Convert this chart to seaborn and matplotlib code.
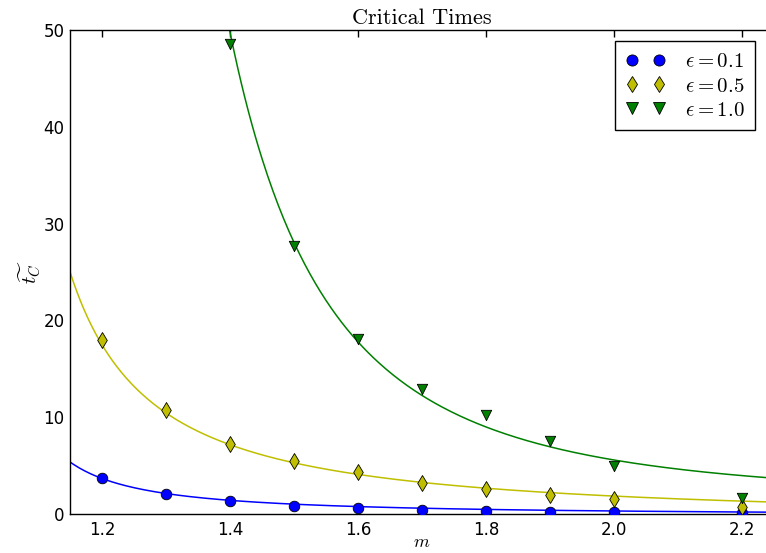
import numpy as np
import pandas as pd
import matplotlib
matplotlib.use("Agg")
import matplotlib.pyplot as plt
from matplotlib.lines import Line2D
import seaborn as sns

# Measured critical times for each epsilon
m_values = [1.2, 1.3, 1.4, 1.5, 1.6, 1.7, 1.8, 1.9, 2.0, 2.2]
t_eps_01 = [3.75, 2.08, 1.32, 0.87, 0.59, 0.45, 0.31, 0.24, 0.17, 0.10]
t_eps_05 = [18.0, 10.75, 7.2, 5.5, 4.35, 3.2, 2.6, 1.92, 1.58, 0.76]
m_values_eps_10 = [1.4, 1.5, 1.6, 1.7, 1.8, 1.9, 2.0, 2.2]
t_eps_10 = [48.6, 27.7, 18.1, 12.9, 10.2, 7.5, 4.97, 1.67]

# Fitted curves t = a / (m - 1)^b + c for each epsilon
fit_a = [0.50, 2.65, 4.19]
fit_b = [1.27, 1.20, 2.67]
fit_c = [-0.19, -0.80, 1.39]

labels = [r"$\epsilon=0.1$", r"$\epsilon=0.5$", r"$\epsilon=1.0$"]
colors = ["#0000ff", "#bfbf00", "#008000"]
markers = ["o", "d", "v"]
sizes = [58, 66, 56]

sns.set_theme(style="white")
plt.rcParams["font.family"] = ["DejaVu Sans"]
plt.rcParams["mathtext.fontset"] = "cm"
plt.rcParams["xtick.direction"] = "in"
plt.rcParams["ytick.direction"] = "in"
plt.rcParams["text.color"] = "black"
plt.rcParams["axes.labelcolor"] = "black"
plt.rcParams["xtick.color"] = "black"
plt.rcParams["ytick.color"] = "black"

fig = plt.figure(figsize=(7.66, 5.53), dpi=100)
W, H = 766, 553
ax = fig.add_axes([70 / W, 39 / H, 704 / W, 484 / H])

grid = np.linspace(1.15, 2.25, 400)
series = [
    (m_values, t_eps_01),
    (m_values, t_eps_05),
    (m_values_eps_10, t_eps_10),
]

for i, (mx, ty) in enumerate(series):
    curve = fit_a[i] / (grid - 1.0) ** fit_b[i] + fit_c[i]
    sns.lineplot(x=grid, y=curve, color=colors[i], linewidth=1.1, ax=ax,
                 zorder=2, legend=False)

for i, (mx, ty) in enumerate(series):
    df = pd.DataFrame({"m": mx, "t": ty})
    sns.scatterplot(data=df, x="m", y="t", marker=markers[i], s=sizes[i],
                    color=colors[i], edgecolor="black", linewidth=0.6,
                    ax=ax, zorder=3, legend=False)

ax.set_xlim(1.15, 2.25)
ax.set_ylim(0, 50)
ax.set_xticks([1.2, 1.4, 1.6, 1.8, 2.0, 2.2])
ax.set_yticks([0, 10, 20, 30, 40, 50])
ax.tick_params(axis="both", which="major", labelsize=12, length=5, width=1,
               color="black", labelcolor="black", top=True, right=True)
ax.tick_params(axis="x", pad=5)
ax.tick_params(axis="y", pad=4)
for sp in ax.spines.values():
    sp.set_color("black")
    sp.set_linewidth(1.0)

ax.set_title("Critical Times", fontfamily="cmr10", fontsize=16, pad=4)
ax.set_xlabel(r"$m$", fontsize=13, labelpad=-4)
ax.set_ylabel(r"$\widetilde{t_C}$", fontsize=15, labelpad=0)

handles = [
    Line2D([], [], linestyle="none", marker=markers[i], markersize=8,
           markerfacecolor=colors[i], markeredgecolor="black",
           markeredgewidth=0.6)
    for i in range(3)
]
leg = fig.legend(handles, labels, loc="upper right",
                 bbox_to_anchor=(755 / W, 1 - 41 / H),
                 bbox_transform=fig.transFigure, numpoints=2,
                 fontsize=15, fancybox=False, framealpha=1,
                 edgecolor="black", borderaxespad=0, handlelength=1.9,
                 handletextpad=0.95, borderpad=0.5, labelspacing=0.2)
leg.get_frame().set_linewidth(1.0)

fig.savefig("out.png", dpi=100)
